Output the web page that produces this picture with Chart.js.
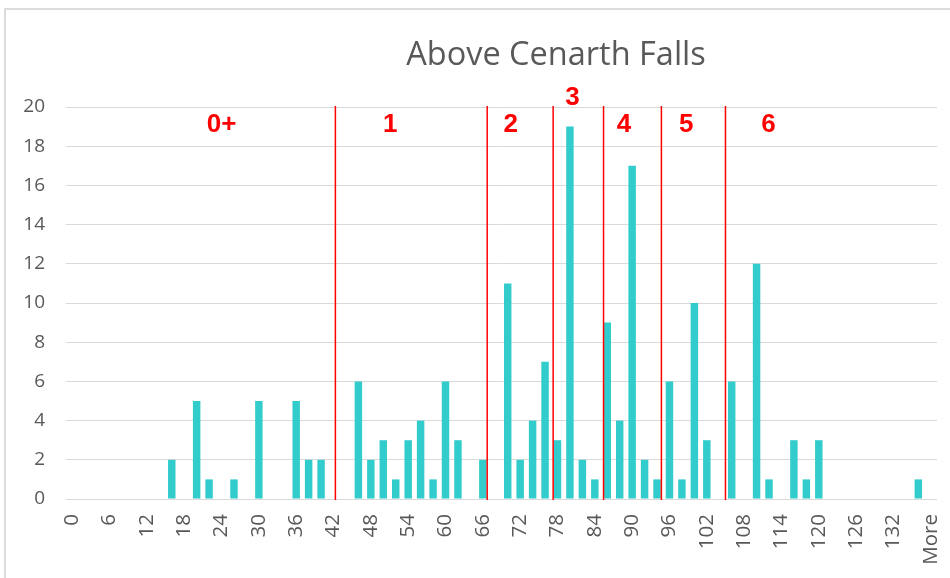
<!DOCTYPE html>
<html><head><meta charset="utf-8">
<script src="https://cdn.jsdelivr.net/npm/chart.js@4.4.1/dist/chart.umd.min.js"></script>
<style>
html,body{margin:0;padding:0;background:#fff;overflow:hidden;}
#wrap{position:relative;width:950px;height:578px;overflow:hidden;}
#frame{position:absolute;left:4px;top:8px;width:980px;height:620px;border:2px solid #dcdcdc;box-sizing:border-box;}
canvas{position:absolute;left:0;top:0;}
</style></head><body>
<div id="wrap"><div id="frame"></div><canvas id="c" width="950" height="578"></canvas></div>
<script>
const categories = ['0','2','4','6','8','10','12','14','16','18','20','22','24','26','28','30','32','34','36','38',
  '40','42','44','46','48','50','52','54','56','58','60','62','64','66','68','70','72','74','76','78',
  '80','82','84','86','88','90','92','94','96','98','100','102','104','106','108','110','112','114','116','118',
  '120','122','124','126','128','130','132','134','136','More'];
const counts = [0,0,0,0,0,0,0,0,2,0, 5,1,0,1,0,5,0,0,5,2,
  2,0,0,6,2,3,1,3,4,1, 6,3,0,2,0,11,2,4,7,3,
  19,2,1,9,4,17,2,1,6,1, 10,3,0,6,0,12,1,0,3,1,
  3,0,0,0,0,0,0,0,1,0];
const ageBoundaries = [42.3, 66.7, 77.3, 85.4, 94.7, 105];
const ageClassLabels = ['0+','1','2','3','4','5','6'];
const ageLabelLengths = [24, 51.1, 70.5, 80.4, 88.7, 98.7, 111.9];
const ageLabelLevels = [19.1, 19.1, 19.1, 20.45, 19.1, 19.1, 19.1];
const titleText = 'Above Cenarth Falls';
const lengthStep = 2;

const overlay = {
  id: 'overlay',
  afterDatasetsDraw(chart) {
    const ctx = chart.ctx, x = chart.scales.x, y = chart.scales.y, a = chart.chartArea;
    ctx.save();
    ctx.strokeStyle = '#ff0000';
    ctx.lineWidth = 1.5;
    ageBoundaries.forEach(v => {
      const px = x.getPixelForValue(v / lengthStep);
      ctx.beginPath();
      ctx.moveTo(px, a.top - 1);
      ctx.lineTo(px, a.bottom + 1);
      ctx.stroke();
    });
    ctx.fillStyle = '#ff0000';
    ctx.font = 'bold 26px "Liberation Sans", Arial, sans-serif';
    ctx.textAlign = 'center';
    ctx.textBaseline = 'middle';
    ageClassLabels.forEach((t, i) => {
      ctx.fillText(t, x.getPixelForValue(ageLabelLengths[i] / lengthStep), y.getPixelForValue(ageLabelLevels[i]));
    });
    ctx.fillStyle = '#595959';
    ctx.font = '32.5px "Open Sans", sans-serif';
    ctx.fillText(titleText, 556, 56);
    ctx.restore();
  }
};

new Chart(document.getElementById('c'), {
  type: 'bar',
  data: {
    labels: categories,
    datasets: [{
      data: counts,
      backgroundColor: '#33CCCC',
      borderWidth: 0,
      barPercentage: 0.6,
      categoryPercentage: 1.0
    }]
  },
  options: {
    responsive: false,
    devicePixelRatio: 1,
    animation: false,
    layout: { padding: { top: 107, right: 13, left: 0, bottom: 0 } },
    plugins: { legend: { display: false }, tooltip: { enabled: false }, title: { display: false } },
    scales: {
      x: {
        grid: { display: false, drawTicks: false },
        border: { display: false },
        ticks: {
          autoSkip: false,
          minRotation: 90,
          maxRotation: 90,
          padding: 15,
          color: '#595959',
          font: { family: '"Open Sans", sans-serif', size: 20.5 },
          callback: (v, i) => (i % 3 === 0 ? categories[i] : '')
        },
        afterFit: s => { s.height = 79; s.paddingLeft = 0; s.paddingRight = 0; }
      },
      y: {
        min: 0,
        max: 20,
        grid: { color: '#d9d9d9', lineWidth: 1, drawTicks: false },
        border: { display: false },
        ticks: {
          stepSize: 2,
          padding: 21,
          color: '#595959',
          font: { family: '"Open Sans", sans-serif', size: 19 }
        },
        afterFit: s => { s.width = 66; s.paddingTop = 0; s.paddingBottom = 0; }
      }
    }
  },
  plugins: [overlay]
});
</script>
</body></html>
